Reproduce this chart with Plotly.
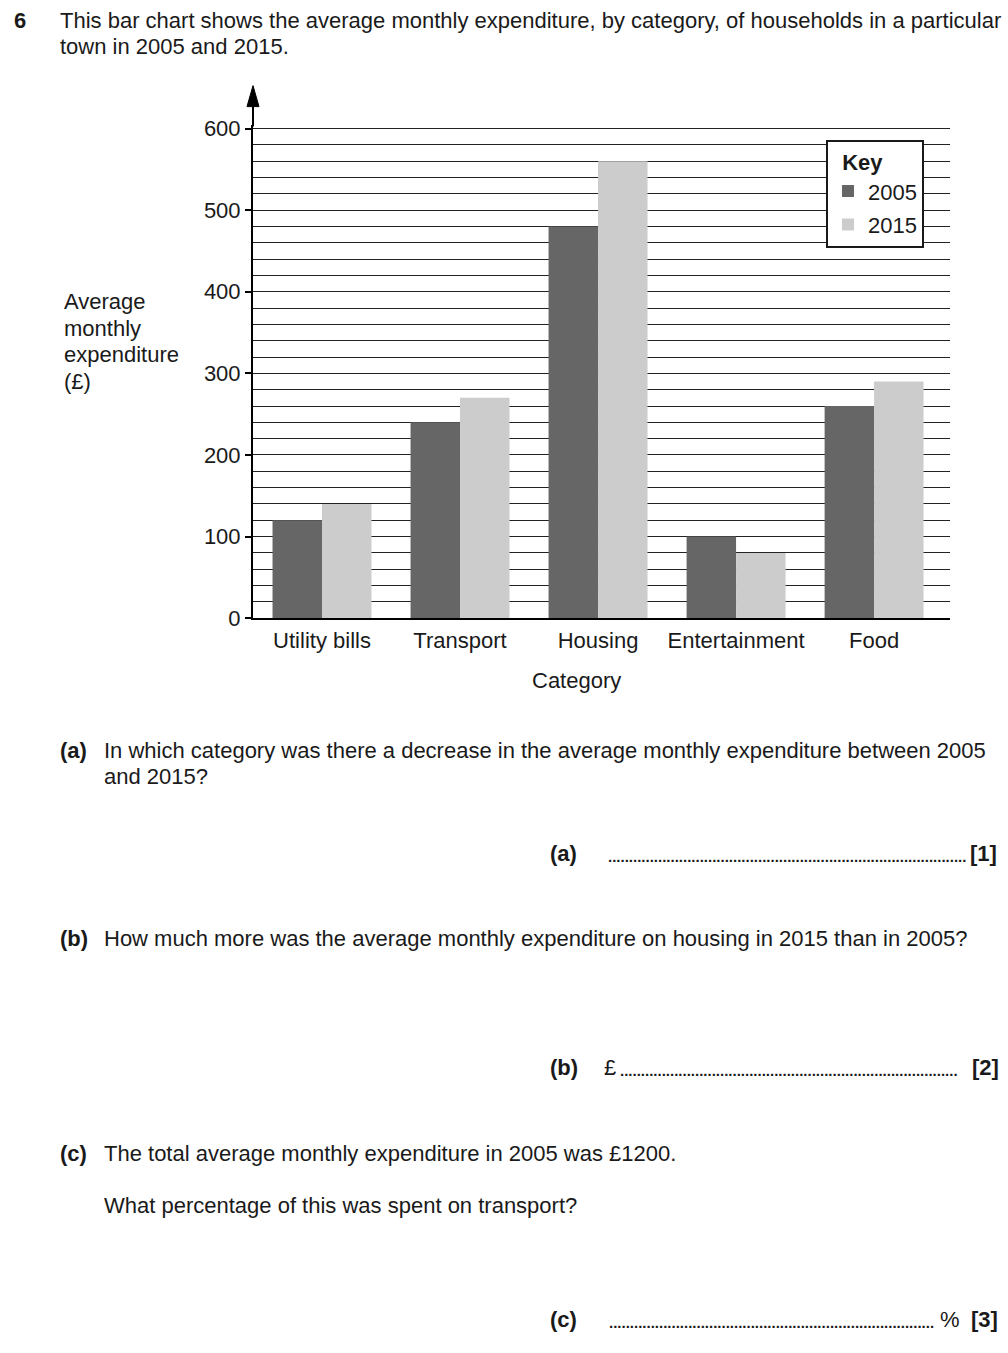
import plotly.graph_objects as go

# ---- data ----
categories = ["Utility bills", "Transport", "Housing", "Entertainment", "Food"]
spend_2005 = [120, 240, 480, 100, 260]
spend_2015 = [140, 270, 560, 80, 290]
series_names = ["2005", "2015"]
y_tick_vals = [0, 100, 200, 300, 400, 500, 600]

W, H = 1008, 1353
FONT = "Liberation Sans, Arial, sans-serif"
TXT = "#1a1a1a"
FS = 22

# the captured page is slightly squeezed vertically; compensate
V_SCALE, V_OFF = 0.9846, 8.3


def px(x):
    return x / W


def py(y):
    yy = (y - V_OFF) / V_SCALE
    return 1 - yy / H


fig = go.Figure()
fig.add_trace(go.Bar(x=categories, y=spend_2005, name=series_names[0], legendgroup="a",
                     marker=dict(color="#666666", line=dict(width=0))))
fig.add_trace(go.Bar(x=categories, y=spend_2015, name=series_names[1], legendgroup="b",
                     marker=dict(color="#cccccc", line=dict(width=0))))

annotations = []


def text(x, y, s, anchor="left", bold=False, size=FS):
    if bold:
        s = "<b>" + s + "</b>"
    xx = x - 2 if anchor == "left" else (x + 2 if anchor == "right" else x)
    annotations.append(dict(x=px(xx), y=py(y), xref="paper", yref="paper", text=s,
                            showarrow=False, xanchor=anchor, yanchor="middle",
                            font=dict(family=FONT, size=size, color=TXT)))


# header
text(14, 20, "6", bold=True)
text(60, 20, "This bar chart shows the average monthly expenditure, by category, of households in a particular")
text(60, 46, "town in 2005 and 2015.")

# y-axis title lines
for i, line in enumerate(["Average", "monthly", "expenditure", "(£)"]):
    text(64, 301 + i * 26.7, line)

# x-axis title
text(576, 680, "Category", anchor="center")

# questions
text(60, 750, "(a)", bold=True)
text(104, 750, "In which category was there a decrease in the average monthly expenditure between 2005")
text(104, 776, "and 2015?")
text(550, 854, "(a)", bold=True)
text(608, 857, "." * 86, size=15, bold=True)
text(997, 854, "[1]", anchor="right", bold=True)

text(60, 939, "(b)", bold=True)
text(104, 939, "How much more was the average monthly expenditure on housing in 2015 than in 2005?")
text(550, 1068, "(b)", bold=True)
text(604, 1068, "£")
text(620, 1071, "." * 81, size=15, bold=True)
text(999, 1068, "[2]", anchor="right", bold=True)

text(60, 1154, "(c)", bold=True)
text(104, 1154, "The total average monthly expenditure in 2005 was £1200.")
text(104, 1206, "What percentage of this was spent on transport?")
text(550, 1320, "(c)", bold=True)
text(609, 1323, "." * 78, size=15, bold=True)
text(940, 1320, "%")
text(998, 1320, "[3]", anchor="right", bold=True)

shapes = [
    # extension of y axis above the plot with arrow head
    dict(type="line", xref="paper", yref="paper", x0=px(253), x1=px(253), y0=py(126), y1=py(100),
         line=dict(color="black", width=2)),
    dict(type="path", xref="paper", yref="paper",
         path=f"M {px(247)},{py(106)} L {px(259)},{py(106)} L {px(253)},{py(85)} Z",
         fillcolor="black", line=dict(color="black", width=1)),
]

# y range slightly above 600 so the 600 gridline is drawn
Y_TOP = 604
top_px = 618 - (618 - 128) * Y_TOP / 600

fig.update_layout(
    width=W, height=H,
    margin=dict(l=0, r=0, t=0, b=0),
    paper_bgcolor="white", plot_bgcolor="white",
    barmode="group", bargap=0.283, bargroupgap=0,
    font=dict(family=FONT, size=FS, color=TXT),
    annotations=annotations,
    shapes=shapes,
    legend=dict(
        x=px(826), y=py(139), xanchor="left", yanchor="top",
        bgcolor="white", bordercolor="#1a1a1a", borderwidth=2,
        title=dict(text="&nbsp;&nbsp;<b>Key</b>", font=dict(family=FONT, size=FS, color=TXT)),
        font=dict(family=FONT, size=FS, color=TXT),
        traceorder="grouped", tracegroupgap=2,
        itemclick=False, itemdoubleclick=False,
    ),
    showlegend=True,
    xaxis=dict(
        domain=[px(253), px(950)],
        range=[-0.5, 4.55],
        showline=True, linecolor="black", linewidth=2,
        showgrid=False, ticks="", zeroline=False,
        ticklabelstandoff=1,
        tickfont=dict(family=FONT, size=FS, color=TXT),
        anchor="y", fixedrange=True,
    ),
    yaxis=dict(
        domain=[py(618), py(top_px)],
        range=[0, Y_TOP],
        tickvals=y_tick_vals,
        showline=True, linecolor="black", linewidth=2,
        showgrid=True, gridcolor="#222222", gridwidth=1,
        minor=dict(dtick=20, showgrid=True, gridcolor="#222222", gridwidth=1, ticks=""),
        ticks="outside", ticklen=6, tickwidth=2, tickcolor="black",
        zeroline=False,
        tickfont=dict(family=FONT, size=FS, color=TXT),
        anchor="x", fixedrange=True,
    ),
)

post = (
    "document.documentElement.style.margin='0';"
    "document.documentElement.style.overflow='hidden';"
    "document.body.style.margin='0';"
    "document.body.style.overflow='hidden';"
    "document.body.style.height='" + str(H) + "px';"
    "var d=document.getElementById('{plot_id}');"
    "d.style.position='absolute';d.style.top='0px';d.style.left='0px';"
)

fig.write_html("out.html", config={"displayModeBar": False}, post_script=post)
